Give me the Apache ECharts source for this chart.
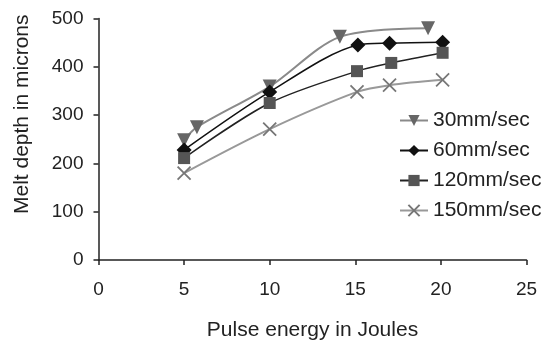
<!DOCTYPE html>
<html><head><meta charset="utf-8">
<script src="https://cdn.jsdelivr.net/npm/echarts@6/dist/echarts.min.js"></script>
<style>html,body{margin:0;padding:0;background:#fff}#c{width:543px;height:347px}</style>
</head><body><div id="c"></div>
<script>
const seriesNames = ['30mm/sec', '60mm/sec', '120mm/sec', '150mm/sec'];
const s30 = [[5, 248], [5.75, 275], [10, 359], [14.1, 462], [19.25, 480]];
const s60 = [[5, 228], [10, 348], [15.15, 445], [17, 449], [20.1, 451]];
const s120 = [[5, 211], [10, 325], [15.1, 391], [17.1, 408], [20.1, 429]];
const s150 = [[5, 180], [10, 271], [15.1, 348], [17, 362], [20.1, 373]];
const xTicks = [0, 5, 10, 15, 20, 25];
const yTicks = [0, 100, 200, 300, 400, 500];

const font = 'Liberation Sans, Arial, sans-serif';
const chart = echarts.init(document.getElementById('c'), null, {renderer: 'canvas'});
const X_PATH = 'path://M0,0 L10,10 M10,0 L0,10';
chart.setOption({
  animation: false,
  backgroundColor: '#fff',
  grid: {left: 98.5, right: 16.5, top: 18.5, bottom: 87, containLabel: false},
  xAxis: {
    type: 'value', min: xTicks[0], max: xTicks[xTicks.length - 1], interval: 5,
    name: 'Pulse energy in Joules', nameLocation: 'middle', nameGap: 60,
    nameTextStyle: {fontFamily: font, fontSize: 21, color: '#222'},
    axisLine: {show: true, lineStyle: {color: '#222', width: 1.5}},
    axisTick: {show: true, length: 5, lineStyle: {color: '#222', width: 1.5}},
    axisLabel: {fontFamily: font, fontSize: 19, color: '#222', margin: 20},
    splitLine: {show: false}
  },
  yAxis: {
    type: 'value', min: yTicks[0], max: yTicks[yTicks.length - 1], interval: 100,
    name: 'Melt depth in microns', nameLocation: 'middle', nameGap: 66,
    nameTextStyle: {fontFamily: font, fontSize: 21, color: '#222', padding: [0, 0, 0, 50]},
    axisLine: {show: true, lineStyle: {color: '#222', width: 1.5}},
    axisTick: {show: true, length: 5, lineStyle: {color: '#222', width: 1.5}},
    axisLabel: {fontFamily: font, fontSize: 19, color: '#222', margin: 15},
    splitLine: {show: false}
  },
  legend: {
    orient: 'vertical', left: 399, top: 110, itemGap: 9, padding: 0,
    itemWidth: 28, itemHeight: 14,
    textStyle: {fontFamily: font, fontSize: 21, color: '#222'},
    data: seriesNames
  },
  series: [
    {name: seriesNames[0], type: 'line', data: s30, smooth: 0.3, symbol: 'triangle', symbolRotate: 180, symbolSize: 14,
     lineStyle: {color: '#8a8a8a', width: 2}, itemStyle: {color: '#666'}, z: 1},
    {name: seriesNames[1], type: 'line', data: s60, smooth: 0.3, symbol: 'diamond', symbolSize: 15,
     lineStyle: {color: '#111', width: 1.5}, itemStyle: {color: '#111'}, z: 2},
    {name: seriesNames[2], type: 'line', data: s120, smooth: 0.3, symbol: 'rect', symbolSize: 12,
     lineStyle: {color: '#222', width: 1.5}, itemStyle: {color: '#555'}, z: 3},
    {name: seriesNames[3], type: 'line', data: s150, smooth: 0.3, symbol: X_PATH, symbolSize: 13,
     lineStyle: {color: '#999', width: 2}, itemStyle: {color: '#777', borderColor: '#777', borderWidth: 1.8}, z: 4}
  ]
});
</script>
</body></html>
